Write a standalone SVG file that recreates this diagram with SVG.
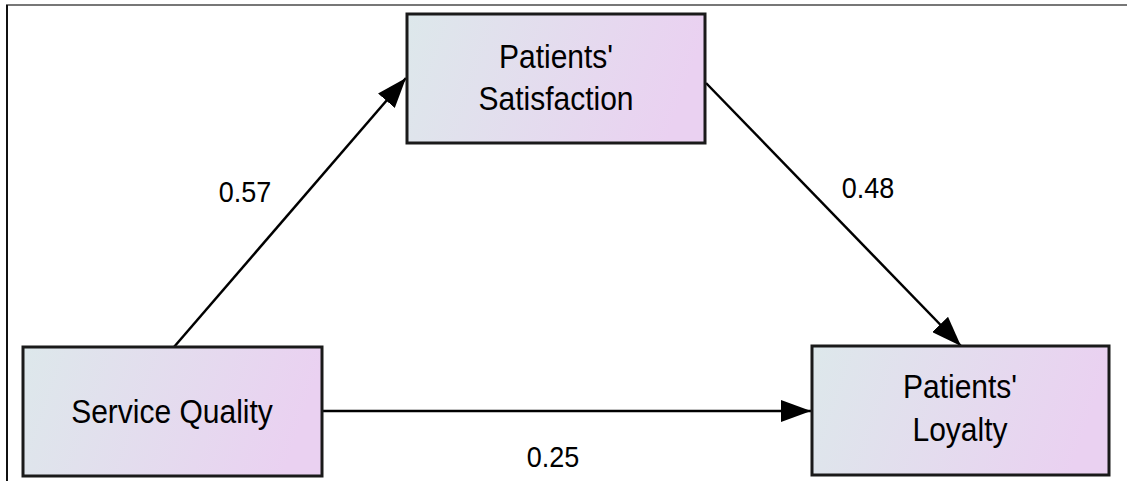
<svg xmlns="http://www.w3.org/2000/svg" width="1127" height="481" viewBox="0 0 1127 481">
<defs>
<linearGradient id="g" x1="0" y1="0" x2="1" y2="0.15">
<stop offset="0" stop-color="#dde8eb"/>
<stop offset="1" stop-color="#ead1f1"/>
</linearGradient>
<marker id="a" markerWidth="30" markerHeight="22" refX="30" refY="11" orient="auto" markerUnits="userSpaceOnUse" viewBox="0 0 30 22">
<path d="M0,0 L30,11 L0,22 Z" fill="#000"/>
</marker>
</defs>
<style>
.box{fill:url(#g);stroke:#1a1a1a;stroke-width:3}
.t{font-family:"Liberation Sans",Arial,sans-serif;font-size:30px;fill:#000;text-anchor:middle}
.l{font-family:"Liberation Sans",Arial,sans-serif;font-size:27px;fill:#000;text-anchor:middle}
.c{stroke:#000;stroke-width:2.5;fill:none;marker-end:url(#a)}
</style>
<rect width="1127" height="481" fill="#fff"/>
<line x1="6" y1="5" x2="1127" y2="5" stroke="#777" stroke-width="2"/>
<line x1="7" y1="5" x2="7" y2="481" stroke="#111" stroke-width="2"/>
<g id="connectors">
<line class="c" x1="174" y1="347" x2="406" y2="78"/>
<line class="c" x1="706" y1="83" x2="961" y2="346"/>
<line class="c" x1="322" y1="411" x2="811" y2="411"/>
</g>
<g id="satisfaction">
<rect class="box" x="407" y="14" width="298" height="129"/>
<text class="t" transform="translate(556 68) scale(1 1.08)">Patients'</text>
<text class="t" transform="translate(556 110) scale(1 1.08)">Satisfaction</text>
</g>
<g id="service-quality">
<rect class="box" x="23" y="347" width="299" height="129"/>
<text class="t" transform="translate(172 423) scale(1 1.08)">Service Quality</text>
</g>
<g id="loyalty">
<rect class="box" x="812" y="346" width="297" height="129"/>
<text class="t" transform="translate(960 398) scale(1 1.08)">Patients'</text>
<text class="t" transform="translate(960 441) scale(1 1.08)">Loyalty</text>
</g>
<g id="labels">
<text class="l" transform="translate(245 202) scale(1 1.1)">0.57</text>
<text class="l" transform="translate(868 198) scale(1 1.1)">0.48</text>
<text class="l" transform="translate(553 467) scale(1 1.1)">0.25</text>
</g>
</svg>
